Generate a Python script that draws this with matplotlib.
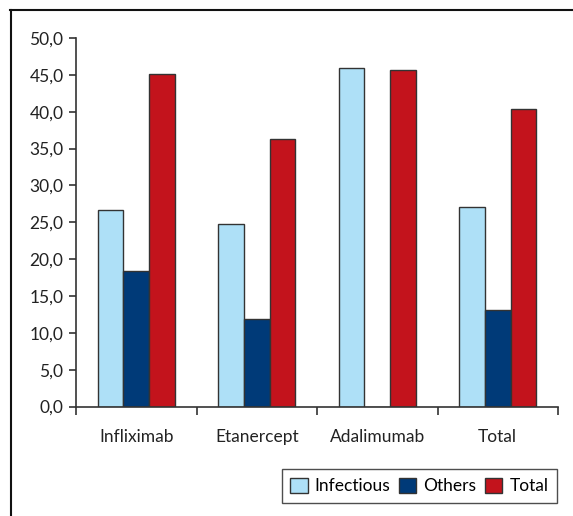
import numpy as np
import matplotlib
matplotlib.use("Agg")
import matplotlib.pyplot as plt
from matplotlib.lines import Line2D
from matplotlib.ticker import FuncFormatter

plt.rcParams['font.family'] = ['Lato', 'DejaVu Sans']

categories = ['Infliximab', 'Etanercept', 'Adalimumab', 'Total']
infectious = [26.7, 24.8, 45.9, 27.1]
others = [18.4, 11.9, 0.0, 13.1]
total = [45.1, 36.3, 45.7, 40.4]
series_names = ['Infectious', 'Others', 'Total']
colors = ['#AEE0F7', '#003A78', '#C3131C']

W, H = 573, 516
fig = plt.figure(figsize=(W / 100, H / 100), dpi=100)
ax = fig.add_axes([76 / W, 1 - 406.5 / H, (558 - 76) / W, (406.5 - 38) / H])

x = np.arange(len(categories))
bw = 0.212
for i, (vals, name, c) in enumerate(zip([infectious, others, total], series_names, colors)):
    ax.bar(x + (i - 1) * bw, vals, bw, color=c, edgecolor='#333333',
           linewidth=1.0, label=name)

ax.set_xlim(-0.5, len(categories) - 0.5)
ax.set_ylim(0, 50)
ax.set_yticks(np.arange(0, 50.1, 5))
ax.yaxis.set_major_formatter(FuncFormatter(lambda v, p: f'{v:.1f}'.replace('.', ',')))

ax.set_xticks(x)
ax.set_xticklabels(categories)
ax.set_xticks(np.arange(-0.5, len(categories), 1), minor=True)
ax.tick_params(axis='x', which='major', length=0, pad=16, labelsize=12.5, colors='#222222')
ax.tick_params(axis='x', which='minor', length=6, width=1.2, color='#333333', direction='out')
ax.tick_params(axis='y', length=5, width=1.2, color='#333333', labelsize=12.5,
               labelcolor='#222222', pad=4)

for s in ['top', 'right']:
    ax.spines[s].set_visible(False)
for s in ['left', 'bottom']:
    ax.spines[s].set_color('#333333')
    ax.spines[s].set_linewidth(1.2)

leg = ax.legend(loc='lower right', bbox_to_anchor=(557 / W, 1 - 503 / H),
                bbox_transform=fig.transFigure, ncol=3, fontsize=12.5,
                frameon=True, fancybox=False, handlelength=1.0, handleheight=1.0,
                handletextpad=0.4, columnspacing=0.5, borderpad=0.5,
                borderaxespad=0)
leg.get_frame().set_edgecolor('#222222')
leg.get_frame().set_linewidth(1.0)

# outer frame (top and left)
fig.add_artist(Line2D([10 / W, 1], [1 - 9.5 / H, 1 - 9.5 / H], color='#111111', lw=1.5))
fig.add_artist(Line2D([10.5 / W, 10.5 / W], [0, 1 - 9.5 / H], color='#111111', lw=1.5))

fig.savefig('out.png', dpi=100)
